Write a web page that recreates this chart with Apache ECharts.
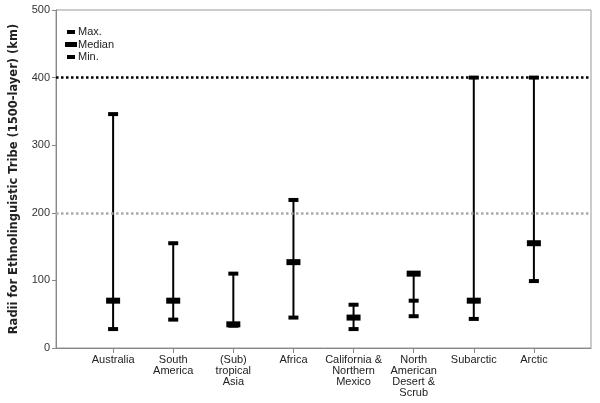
<!DOCTYPE html>
<html><head><meta charset="utf-8">
<script src="https://cdn.jsdelivr.net/npm/echarts@6/dist/echarts.min.js"></script>
<style>html,body{margin:0;padding:0;background:#fff}#c{width:600px;height:403px}</style>
</head><body><div id="c"></div>
<script>
var categories = ['Australia', 'South\nAmerica', '(Sub)\ntropical\nAsia', 'Africa', 'California &\nNorthern\nMexico', 'North\nAmerican\nDesert &\nScrub', 'Subarctic', 'Arctic'];
var maxValues = [346, 155, 110, 219, 64, 70, 400, 400];
var medianValues = [70, 70, 35, 127, 45, 110, 70, 155];
var minValues = [28, 42, 33, 45, 28, 47, 43, 99];
var refLines = [400, 200];
var yTicks = [0, 100, 200, 300, 400, 500];

var idx = categories.map(function (_, i) { return i; });
var rangeData = idx.map(function (i) {
  var a = [maxValues[i], medianValues[i], minValues[i]];
  return [i, Math.min.apply(null, a), Math.max.apply(null, a)];
});

var chart = echarts.init(document.getElementById('c'));
var font = 'Liberation Sans';
chart.setOption({
  animation: false,
  textStyle: { fontFamily: font },
  grid: { left: 49, right: 9, top: 10, bottom: 55, show: true, borderColor: '#999', borderWidth: 1 },
  xAxis: {
    type: 'value', min: -0.95, max: 7.95,
    splitLine: { show: false },
    axisLine: { onZero: false, lineStyle: { color: '#888', width: 1 } },
    axisTick: { show: true, length: 5, customValues: idx, lineStyle: { color: '#888' } },
    axisLabel: {
      customValues: idx, color: '#222', fontSize: 11, lineHeight: 11, margin: 6,
      formatter: function (v) { return categories[Math.round(v)]; }
    }
  },
  yAxis: {
    type: 'value', min: 0, max: 500, interval: 100,
    name: 'Radii for Ethnolinguistic Tribe (1500-layer) (km)',
    nameLocation: 'middle', nameGap: 36,
    nameTextStyle: { fontWeight: 'bold', fontSize: 11.5, color: '#222', fontFamily: 'DejaVu Sans' },
    splitLine: { show: false },
    axisLine: { show: true, onZero: false, lineStyle: { color: '#888', width: 1 } },
    axisTick: { show: true, length: 4, lineStyle: { color: '#888' } },
    axisLabel: { color: '#333', fontSize: 11, margin: 6,
      formatter: function (v) { return yTicks.indexOf(v) >= 0 ? String(v) : ''; } }
  },
  graphic: [
    { type: 'rect', shape: { x: 67, y: 30, width: 8, height: 4 }, style: { fill: '#000' } },
    { type: 'text', style: { x: 78, y: 32, text: 'Max.', fontFamily: font, fontSize: 11, fill: '#222', verticalAlign: 'middle' } },
    { type: 'rect', shape: { x: 65, y: 42, width: 12, height: 5 }, style: { fill: '#000' } },
    { type: 'text', style: { x: 78, y: 44.5, text: 'Median', fontFamily: font, fontSize: 11, fill: '#222', verticalAlign: 'middle' } },
    { type: 'rect', shape: { x: 67, y: 55, width: 8, height: 4 }, style: { fill: '#000' } },
    { type: 'text', style: { x: 78, y: 57, text: 'Min.', fontFamily: font, fontSize: 11, fill: '#222', verticalAlign: 'middle' } }
  ],
  series: [
    {
      type: 'custom', name: 'range', z: 2,
      data: rangeData,
      renderItem: function (params, api) {
        var p1 = api.coord([api.value(0), api.value(1)]);
        var p2 = api.coord([api.value(0), api.value(2)]);
        return { type: 'line', shape: { x1: p1[0], y1: p1[1], x2: p2[0], y2: p2[1] }, style: { stroke: '#000', lineWidth: 2 } };
      },
      markLine: {
        silent: true, symbol: 'none', label: { show: false },
        data: [
          { yAxis: refLines[0], lineStyle: { color: '#000', width: 2.5, type: [2.5, 2.5] } },
          { yAxis: refLines[1], lineStyle: { color: '#aaa', width: 2.5, type: [2.5, 2.5] } }
        ]
      }
    },
    { type: 'scatter', name: 'Max.', z: 3, symbol: 'rect', symbolSize: [10, 4], itemStyle: { color: '#000', opacity: 1 },
      data: idx.map(function (i) { return [i, maxValues[i]]; }) },
    { type: 'scatter', name: 'Min.', z: 3, symbol: 'rect', symbolSize: [10, 4], itemStyle: { color: '#000', opacity: 1 },
      data: idx.map(function (i) { return [i, minValues[i]]; }) },
    { type: 'scatter', name: 'Median', z: 4, symbol: 'rect', symbolSize: [14, 6], itemStyle: { color: '#000', opacity: 1 },
      data: idx.map(function (i) { return [i, medianValues[i]]; }) }
  ]
});
</script></body></html>
